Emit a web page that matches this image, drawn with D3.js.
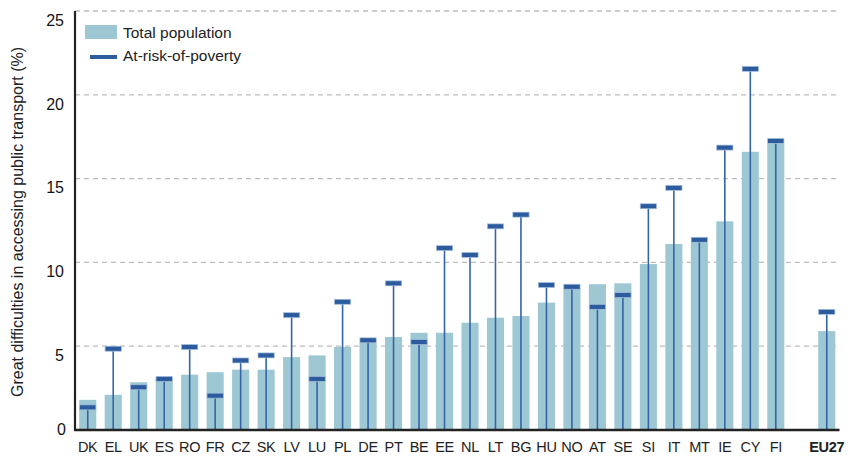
<!DOCTYPE html>
<html>
<head>
    <meta charset="utf-8">
    <script src="https://cdn.jsdelivr.net/npm/d3@7"></script>
    <style>
        html, body {
            margin: 0;
            padding: 0;
            background: #fff;
            font-family: "Liberation Sans", Arial, sans-serif;
        }

        .grid line {
            stroke: #bdbdbd;
            stroke-width: 1.3;
            stroke-dasharray: 5 4;
        }

        .axis-label {
            fill: #222;
        }
    </style>
</head>
<body>
<div id="chart"></div>
<script>
    // countries, ordered as in the picture; "" marks the empty slot before EU27
    var countries = ["DK", "EL", "UK", "ES", "RO", "FR", "CZ", "SK", "LV", "LU", "PL", "DE", "PT", "BE",
        "EE", "NL", "LT", "BG", "HU", "NO", "AT", "SE", "SI", "IT", "MT", "IE", "CY", "FI", "", "EU27"];

    // share of people with great difficulties in accessing public transport (%)
    var totalPop = [1.8, 2.1, 2.85, 3.1, 3.3, 3.45, 3.6, 3.6, 4.35, 4.45, 4.95, 5.2, 5.55, 5.8,
        5.8, 6.4, 6.7, 6.8, 7.6, 8.45, 8.7, 8.75, 9.9, 11.1, 11.2, 12.45, 16.6, 17.1, null, 5.9];
    var povertyRisk = [1.35, 4.85, 2.55, 3.05, 4.95, 2.05, 4.15, 4.45, 6.85, 3.05, 7.65, 5.35, 8.75, 5.25,
        10.85, 10.45, 12.15, 12.85, 8.65, 8.55, 7.35, 8.05, 13.35, 14.45, 11.35, 16.85, 21.55, 17.25, null, 7.05];

    var yTicks = [0, 5, 10, 15, 20, 25];

    function render() {
        var width = 848,
            height = 457,
            x0 = 75,
            x1 = 839.5,
            yTop = 11,
            yBottom = 430;

        var svg = d3.select("#chart").append("svg")
            .attr("width", width)
            .attr("height", height);

        var x = d3.scaleBand()
            .domain(countries)
            .range([x0, x1])
            .paddingInner(0.33)
            .paddingOuter(0.165);

        var y = d3.scaleLinear()
            .domain([0, 25])
            .range([yBottom, yTop]);

        var rows = countries.map(function (c, i) {
            return {name: c, total: totalPop[i], poor: povertyRisk[i]};
        }).filter(function (d) {
            return d.name !== "";
        });

        var mid = function (d) {
            return x(d.name) + x.bandwidth() / 2;
        };

        // dashed grid
        svg.append("g")
            .attr("class", "grid")
            .selectAll("line")
            .data(yTicks.filter(function (t) { return t > 0; }))
            .enter().append("line")
            .attr("x1", x0)
            .attr("x2", x1)
            .attr("y1", function (d) { return y(d); })
            .attr("y2", function (d) { return y(d); });

        // total population bars
        svg.append("g")
            .selectAll("rect")
            .data(rows)
            .enter().append("rect")
            .attr("x", function (d) { return x(d.name); })
            .attr("width", x.bandwidth())
            .attr("y", function (d) { return y(d.total); })
            .attr("height", function (d) { return y(0) - y(d.total); })
            .attr("fill", "#9dc7d3");

        // at-risk-of-poverty stems
        svg.append("g")
            .selectAll("line")
            .data(rows)
            .enter().append("line")
            .attr("x1", mid)
            .attr("x2", mid)
            .attr("y1", y(0))
            .attr("y2", function (d) { return y(d.poor); })
            .attr("stroke", "#3465a9")
            .attr("stroke-width", 1.6);

        // markers
        var mw = x.bandwidth() - 0.8;
        svg.append("g")
            .selectAll("rect")
            .data(rows)
            .enter().append("rect")
            .attr("x", function (d) { return mid(d) - mw / 2; })
            .attr("width", mw)
            .attr("y", function (d) { return y(d.poor) - 2.5; })
            .attr("height", 5)
            .attr("fill", "#2c5c9e")
            .attr("stroke", "#a9c0dd")
            .attr("stroke-width", 0.7);

        // axes
        svg.append("line")
            .attr("x1", x0).attr("x2", x0)
            .attr("y1", yTop).attr("y2", yBottom)
            .attr("stroke", "#222")
            .attr("stroke-width", 2.2);

        svg.append("line")
            .attr("x1", x0 - 1).attr("x2", x1)
            .attr("y1", yBottom).attr("y2", yBottom)
            .attr("stroke", "#222")
            .attr("stroke-width", 2.6);

        // tick labels sit a little below their gridlines in the original
        svg.append("g")
            .selectAll("text")
            .data(yTicks)
            .enter().append("text")
            .attr("x", function (d) { return d === 0 ? 66 : 64; })
            .attr("y", function (d) { return d === 0 ? y(d) - 1 : y(d) + 9; })
            .attr("dy", "0.36em")
            .attr("text-anchor", "end")
            .attr("font-size", 16)
            .attr("fill", "#141414")
            .text(function (d) { return d; });

        svg.append("g")
            .selectAll("text")
            .data(rows)
            .enter().append("text")
            .attr("class", "axis-label")
            .attr("x", mid)
            .attr("y", 452)
            .attr("text-anchor", "middle")
            .attr("font-size", 14.5)
            .attr("letter-spacing", "-0.3px")
            .attr("font-weight", function (d) { return d.name === "EU27" ? "bold" : "normal"; })
            .text(function (d) { return d.name; });

        svg.append("text")
            .attr("class", "axis-label")
            .attr("transform", "translate(23,222) rotate(-90)")
            .attr("text-anchor", "middle")
            .attr("font-size", 16)
            .text("Great difficulties in accessing public transport (%)");

        // legend
        var legend = svg.append("g");
        legend.append("rect")
            .attr("x", 85).attr("y", 25)
            .attr("width", 32).attr("height", 14)
            .attr("fill", "#9dc7d3");
        legend.append("text")
            .attr("x", 123).attr("y", 37.5)
            .attr("font-size", 15.5)
            .attr("fill", "#222")
            .text("Total population");
        legend.append("rect")
            .attr("x", 90).attr("y", 55)
            .attr("width", 27).attr("height", 4)
            .attr("fill", "#2c5c9e");
        legend.append("text")
            .attr("x", 123).attr("y", 61)
            .attr("font-size", 15.5)
            .attr("fill", "#222")
            .text("At-risk-of-poverty");
    }

    render();
</script>
</body>
</html>
